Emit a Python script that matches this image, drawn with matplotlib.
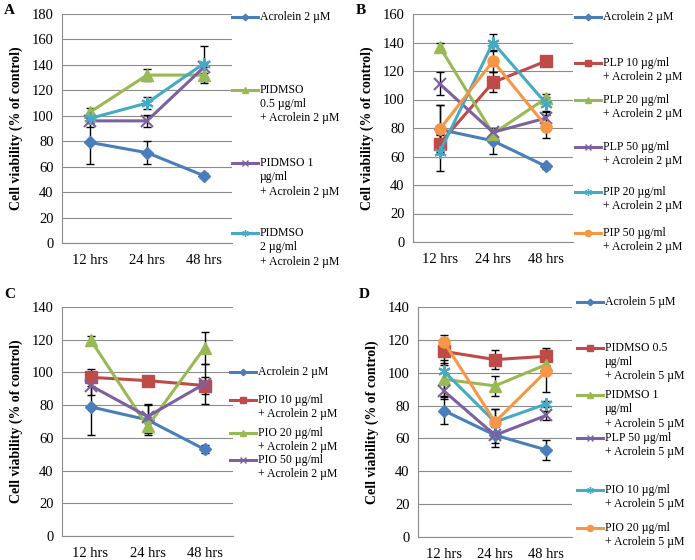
import matplotlib
matplotlib.use("Agg")
import matplotlib.pyplot as plt
from matplotlib.lines import Line2D

plt.rcParams['font.family'] = ['Liberation Serif', 'DejaVu Serif']

times = ["12 hrs", "24 hrs", "48 hrs"]

BLUE = "#4A7EBB"; RED = "#BE4B48"; GREEN = "#98B954"; PURPLE = "#7D60A0"; CYAN = "#46AAC5"; ORANGE = "#F79646"
STY = {
    "blue": (BLUE, "D", 6),
    "red": (RED, "s", 8),
    "green": (GREEN, "^", 8),
    "purple": (PURPLE, "x", 8),
    "cyan": (CYAN, (6, 2, 0), 9),
    "orange": (ORANGE, "o", 8),
}

# Panel A
a_labels = ["Acrolein 2 µM", "PIDMSO\n0.5 µg/ml\n+ Acrolein 2 µM", "PIDMSO 1\nµg/ml\n+ Acrolein 2 µM", "PIDMSO\n2 µg/ml\n+ Acrolein 2 µM"]
a_styles = ["blue", "green", "purple", "cyan"]
a_vals = [[79, 71, 53], [103, 132, 132], [96, 96, 138], [98, 110, 141]]
a_errs = [[17, 9, 2], [3, 4.5, 6], [5, 5, 4], [4, 5, 14]]

# Panel B
b_labels = ["Acrolein 2 µM", "PLP 10 µg/ml\n+ Acrolein 2 µM", "PLP 20 µg/ml\n+ Acrolein 2 µM", "PLP 50 µg/ml\n+ Acrolein 2 µM", "PIP 20 µg/ml\n+ Acrolein 2 µM", "PIP 50 µg/ml\n+ Acrolein 2 µM"]
b_styles = ["blue", "red", "green", "purple", "cyan", "orange"]
b_vals = [[79, 71, 53], [69, 112, 127], [137, 76, 101], [111, 77, 87], [63, 140, 97], [79, 127, 81]]
b_errs = [[17, 9, 2], [6, 7, 2], [3, 3, 3], [8, 3, 4], [13, 6, 5], [17, 8, 8]]

# Panel C
c_labels = ["Acrolein 2 µM", "PIO 10 µg/ml\n+ Acrolein 2 µM", "PIO 20 µg/ml\n+ Acrolein 2 µM", "PIO 50 µg/ml\n+ Acrolein 2 µM"]
c_styles = ["blue", "red", "green", "purple"]
c_vals = [[79, 71, 53], [97, 95, 92], [120, 67, 115], [92, 73, 93]]
c_errs = [[17, 9, 2.5], [5, 2, 5], [2, 4, 10], [6, 8, 12]]

# Panel D
d_labels = ["Acrolein 5 µM", "PIDMSO 0.5\nµg/ml\n+ Acrolein 5 µM", "PIDMSO 1\nµg/ml\n+ Acrolein 5 µM", "PLP 50 µg/ml\n+ Acrolein 5 µM", "PIO 10 µg/ml\n+ Acrolein 5 µM", "PIO 20 µg/ml\n+ Acrolein 5 µM"]
d_styles = ["blue", "red", "green", "purple", "cyan", "orange"]
d_vals = [[77, 62, 53], [113, 108, 110], [96, 92, 105], [89, 62, 74], [101, 70, 81], [119, 70, 101]]
d_errs = [[8, 7, 6], [8, 6, 5], [10, 6, 6], [5, 5, 3], [7, 8, 2], [4, 8, 13]]

W, H = 695, 560
fig = plt.figure(figsize=(W / 100, H / 100), dpi=100)

def px_axes(l, r, t, b):
    return fig.add_axes([l / W, (H - b) / H, (r - l) / W, (b - t) / H])

def draw(ax, vals, errs, styles, ymax):
    x = list(range(len(times)))
    for v, e, s in zip(vals, errs, styles):
        col, mk, ms = STY[s]
        ax.errorbar(x, v, yerr=e, fmt="none", ecolor="black", elinewidth=1, capsize=3, capthick=1, zorder=2)
        ax.plot(x, v, color=col, lw=2.2, marker=mk, ms=ms, mew=1.5 if mk in ("x",) or isinstance(mk, tuple) else 1,
                mec=col, mfc=col, zorder=3)
    ax.set_xlim(-0.5, 2.5)
    ax.set_ylim(0, ymax)
    ax.set_yticks(range(0, ymax + 1, 20))
    ax.set_xticks(x)
    ax.set_xticklabels(times)
    ax.yaxis.grid(True, color="#8C8C8C", lw=0.8)
    ax.set_axisbelow(True)
    for sp in ["top", "right"]:
        ax.spines[sp].set_visible(False)
    for sp in ["left", "bottom"]:
        ax.spines[sp].set_color("#8C8C8C")
    ax.tick_params(axis="both", length=0, labelsize=10.5, pad=8)
    ax.tick_params(axis="y", pad=6)

def legend(x0, ys, labels, styles):
    for y, lab, s in zip(ys, labels, styles):
        col, mk, ms = STY[s]
        fy = (H - y) / H
        fig.add_artist(Line2D([x0 / W, (x0 + 26) / W], [fy, fy], color=col, lw=2.2,
                              transform=fig.transFigure))
        fig.add_artist(Line2D([(x0 + 13) / W], [fy], color=col, marker=mk, ms=ms * 0.55,
                              mec=col, mfc=col, transform=fig.transFigure))
        fig.text((x0 + 28) / W, fy, lab, fontsize=8.5, va="top", ha="left",
                 linespacing=1.25, transform=fig.transFigure,
                 bbox=None).set_y(fy + 6 / H)

axA = px_axes(62, 232, 14, 243)
draw(axA, a_vals, a_errs, a_styles, 180)
axB = px_axes(413, 573, 14, 242)
draw(axB, b_vals, b_errs, b_styles, 160)
axC = px_axes(62, 233, 307, 536)
draw(axC, c_vals, c_errs, c_styles, 140)
axD = px_axes(418, 572, 307, 537)
draw(axD, d_vals, d_errs, d_styles, 140)

for ax in (axA, axB, axC, axD):
    ax.set_ylabel("Cell viability (% of control)", fontsize=10, fontweight="bold", labelpad=6)

legend(232, [17, 90, 163, 233], a_labels, a_styles)
legend(575, [17, 63, 100, 147, 192, 233], b_labels, b_styles)
legend(230, [372, 400, 433, 460], c_labels, c_styles)
legend(577, [302, 348, 395, 438, 490, 528], d_labels, d_styles)

for lab, x, y in [("A", 4, 4), ("B", 356, 4), ("C", 4, 288), ("D", 359, 288)]:
    fig.text(x / W, (H - y) / H, lab, fontsize=11, fontweight="bold", va="top", ha="left")

fig.savefig("out.png", dpi=100, facecolor="white")
